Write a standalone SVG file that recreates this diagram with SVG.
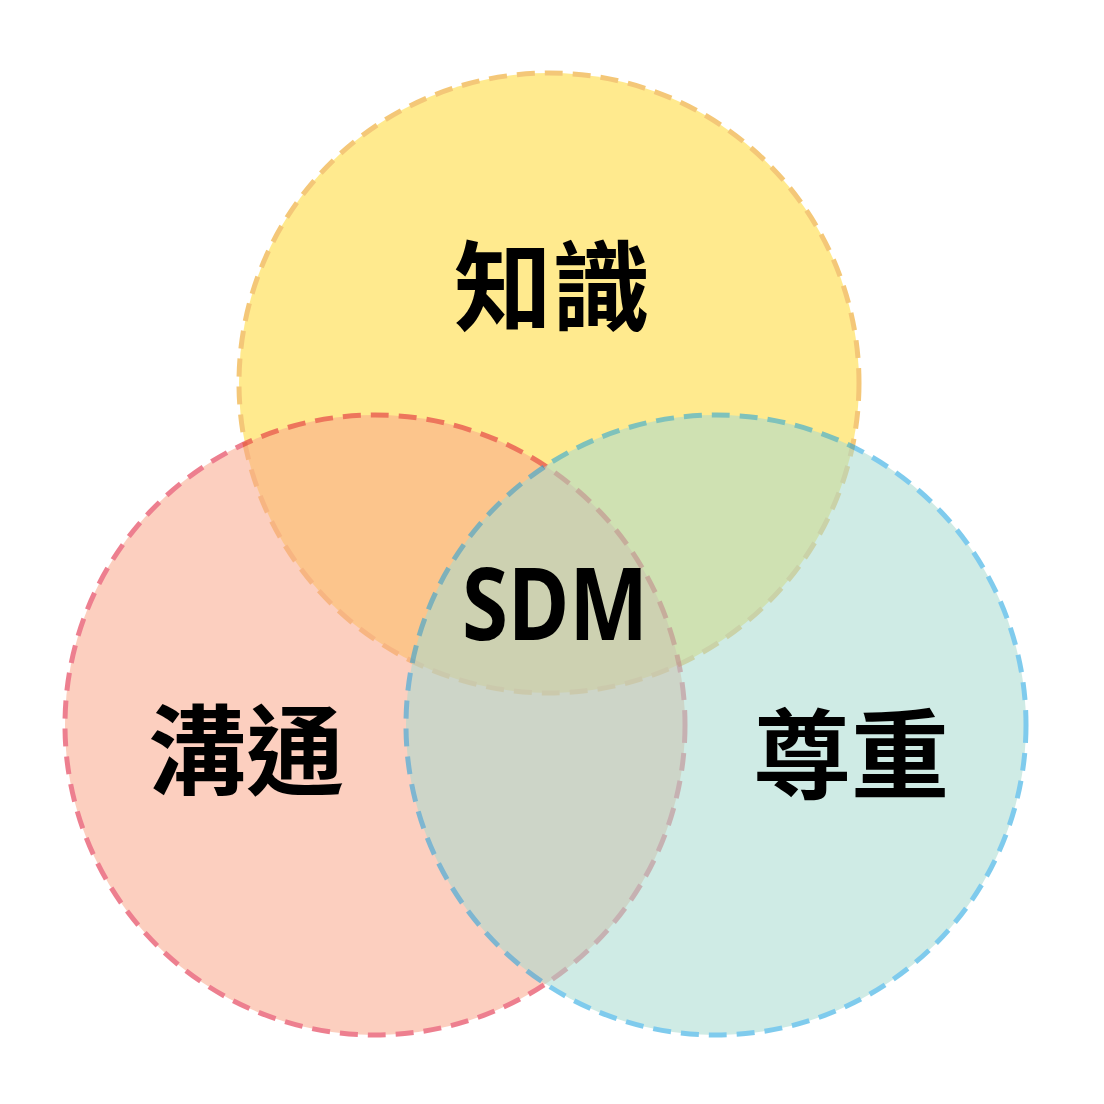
<svg xmlns="http://www.w3.org/2000/svg" width="1104" height="1104" viewBox="0 0 1104 1104">
<style>
.c{stroke-width:5;stroke-dasharray:18 10;opacity:0.55}
.t{font-family:"Noto Sans CJK TC","Noto Sans CJK SC",sans-serif;font-weight:700;font-size:98px;fill:#000;text-anchor:middle;dominant-baseline:central}
.s{font-family:"Noto Sans","DejaVu Sans",sans-serif;font-weight:700;font-size:100px;fill:#000;text-anchor:middle;dominant-baseline:central}
</style>
<rect width="1104" height="1104" fill="#fff"/>
<g id="knowledge">
<circle class="c" cx="549" cy="383" r="310" fill="#FFDA33" stroke="#EC9B0A"/>
<text class="t" x="552" y="280">知識</text>
</g>
<g id="communication">
<circle class="c" cx="375" cy="725" r="310" fill="#FBA88B" stroke="#E01835"/>
<text class="t" x="246" y="744">溝通</text>
</g>
<g id="respect">
<circle class="c" cx="716" cy="725" r="310" fill="#A8DBD0" stroke="#18A2E0"/>
<text class="t" x="851" y="748">尊重</text>
</g>
<g id="sdm">
<text class="s" x="555" y="601" textLength="186" lengthAdjust="spacingAndGlyphs">SDM</text>
</g>
</svg>
